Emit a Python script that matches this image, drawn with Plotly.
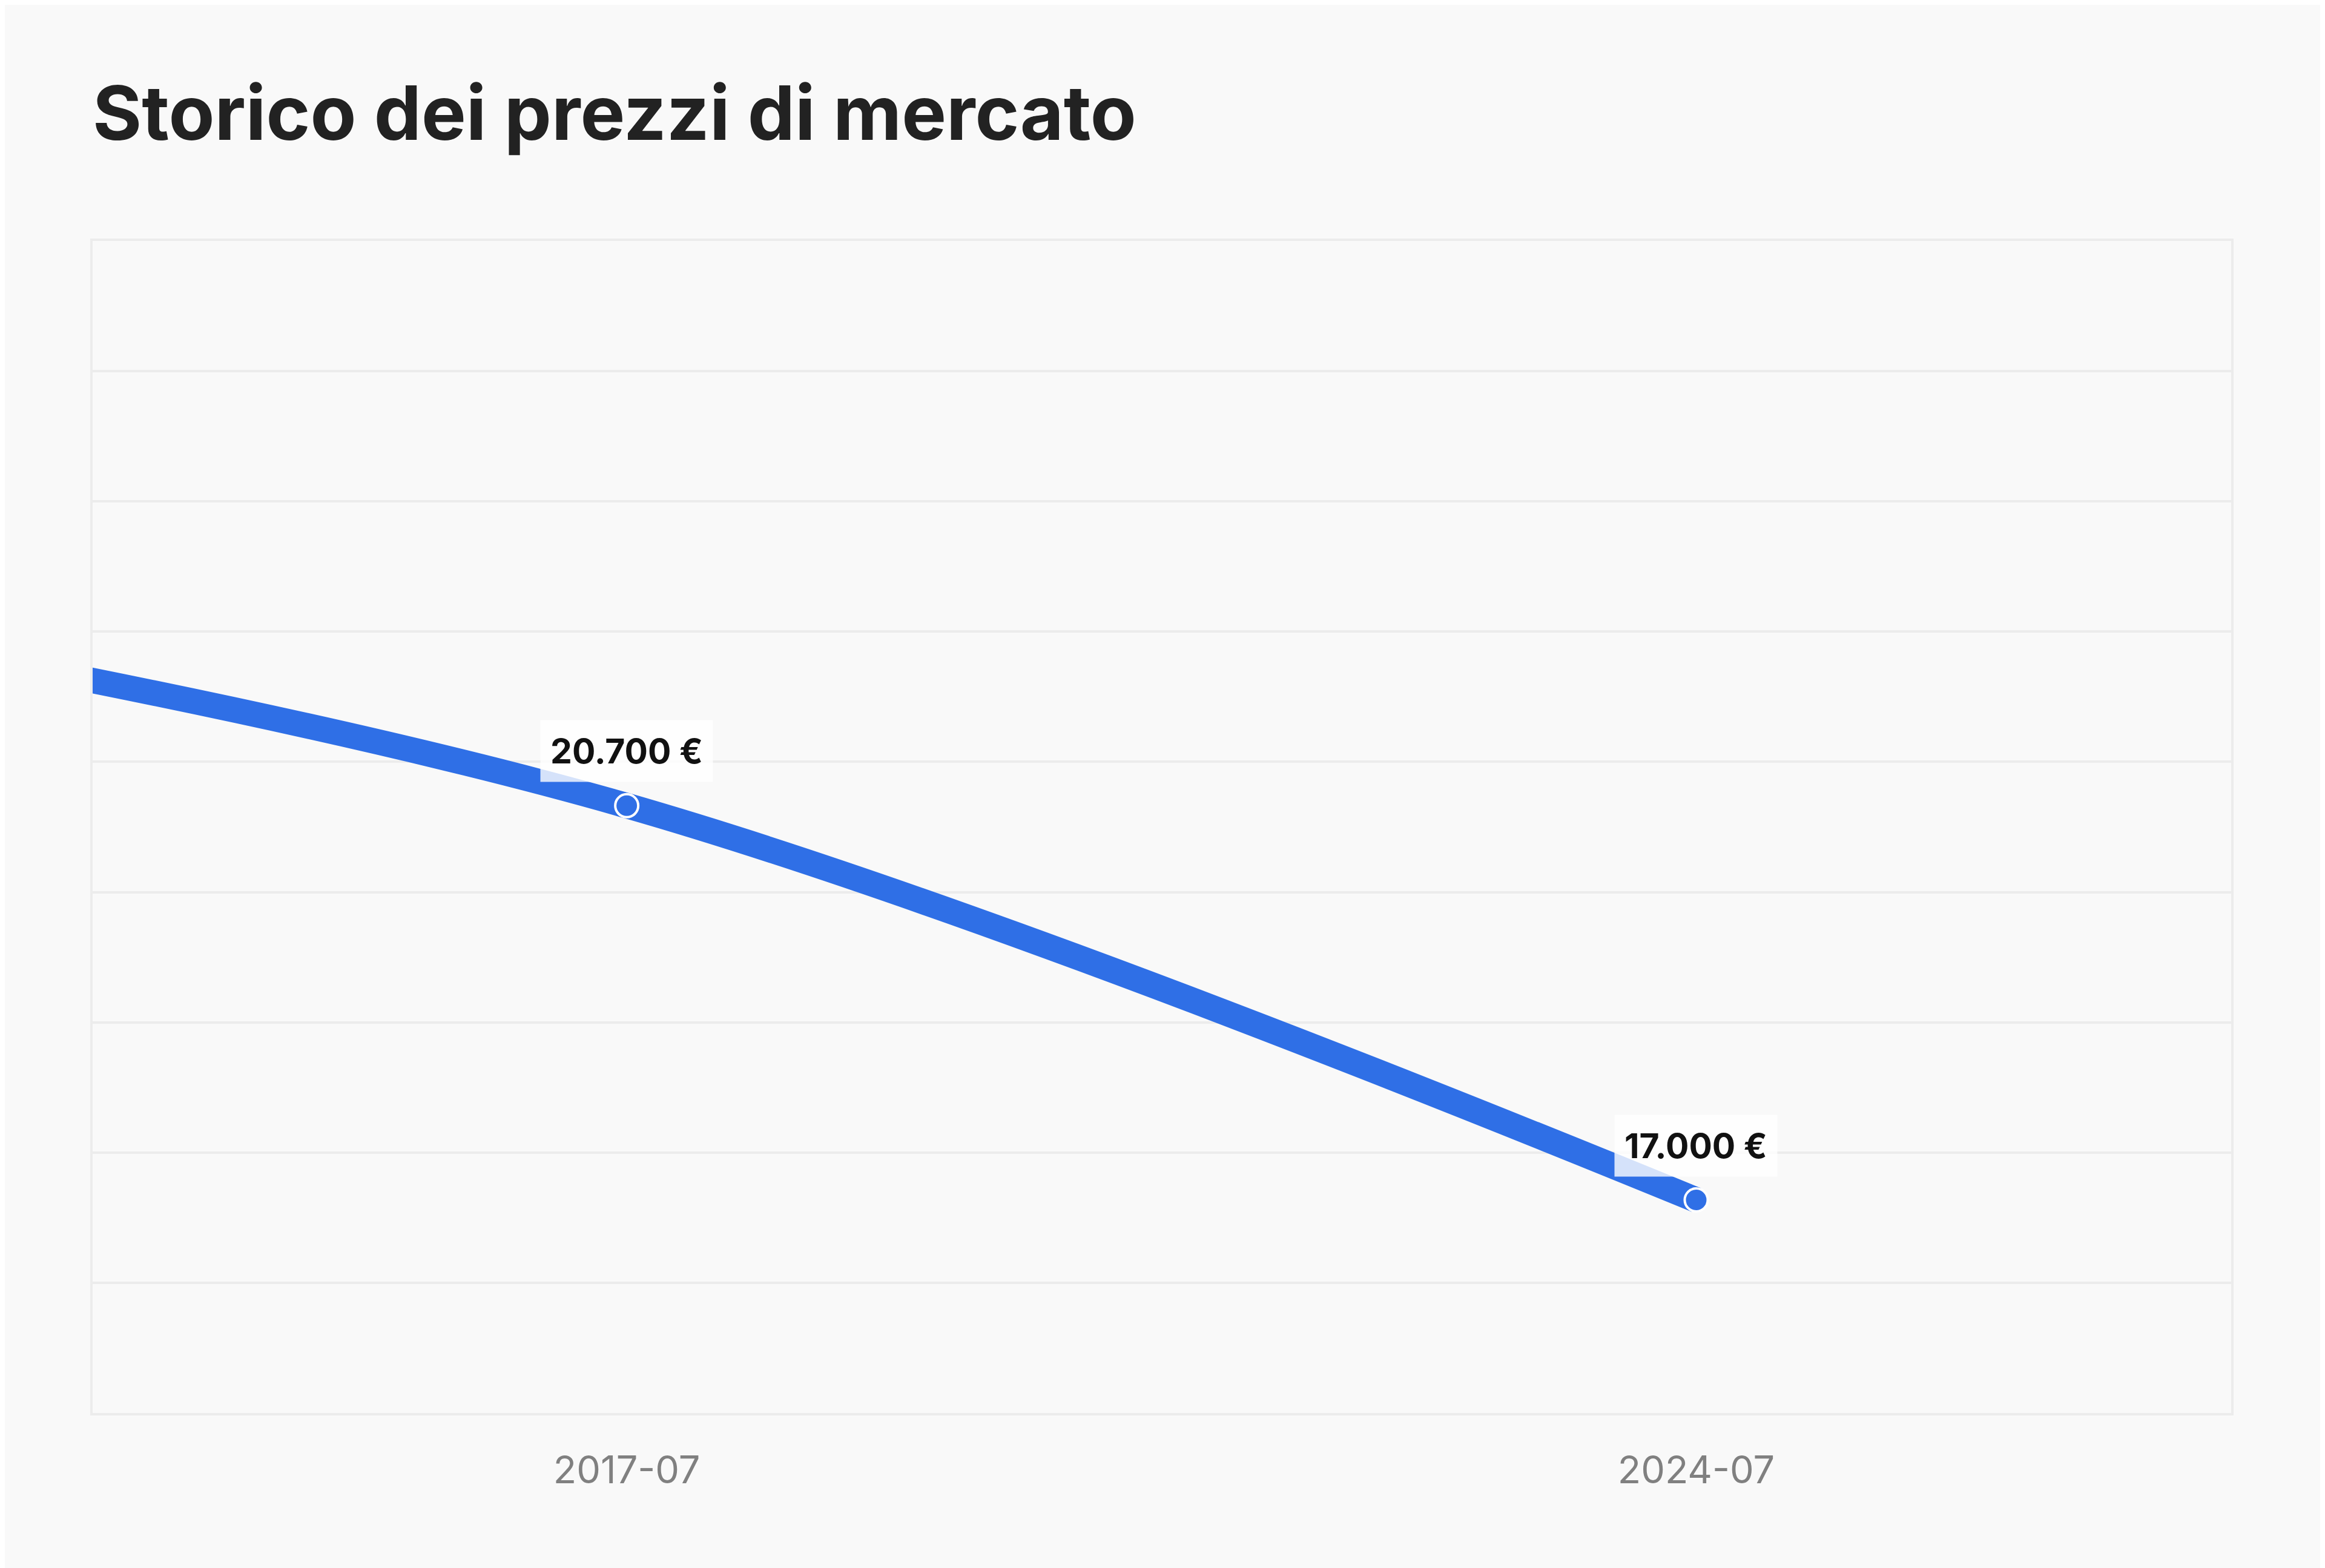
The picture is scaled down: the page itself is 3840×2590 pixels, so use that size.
import numpy as np
import plotly.graph_objects as go

# market price history (first point lies left of the visible window)
dates = ["2010-07-01", "2017-07-01", "2024-07-01"]
prices = [22800, 20700, 17000]
price_labels = ["22.800 €", "20.700 €", "17.000 €"]

title = "Storico dei prezzi di mercato"
blue = "#2f6fe6"
bg = "#f9f9f9"
grid = "#ececec"

x_range = ["2014-01-01", "2028-01-01"]
y_range = [15000, 26000]

fig = go.Figure()

fig.add_trace(go.Scatter(
    x=dates,
    y=prices,
    mode="lines+markers",
    line=dict(color=blue, width=42, shape="spline", smoothing=1),
    marker=dict(size=38, color=blue, line=dict(color="white", width=4)),
    hoverinfo="skip",
    cliponaxis=True,
    showlegend=False,
))

for d, p, lab in zip(dates, prices, price_labels):
    fig.add_annotation(
        x=d, y=p, text="<b>" + lab + "</b>",
        showarrow=False, yshift=90,
        bgcolor="rgba(255,255,255,0.8)", borderpad=16,
        font=dict(family="Inter", size=57, color="#111111"),
    )

fig.update_layout(
    width=3840,
    height=2590,
    paper_bgcolor=bg,
    plot_bgcolor=bg,
    margin=dict(l=145, r=163, t=390, b=264),
    font=dict(family="Inter"),
    title=dict(
        text="<b>" + title + "</b>",
        font=dict(family="Inter", size=124, color="#222222"),
        xref="container", x=145 / 3840, xanchor="left",
        yref="container", y=1 - 180 / 2590, yanchor="middle",
    ),
)

fig.update_xaxes(
    type="date",
    range=x_range,
    tickvals=dates,
    tickformat="%Y-%m",
    tickfont=dict(family="Inter", size=63, color="#808080"),
    ticklabelstandoff=36,
    showgrid=False,
    zeroline=False,
    showline=True, mirror=True, linecolor=grid, linewidth=4,
)

fig.update_yaxes(
    range=y_range,
    tickvals=list(np.linspace(y_range[0], y_range[1], 10)),
    showticklabels=False,
    showgrid=True, gridcolor=grid, gridwidth=4,
    zeroline=False,
    showline=True, mirror=True, linecolor=grid, linewidth=4,
)

fig.write_html("out.html")
